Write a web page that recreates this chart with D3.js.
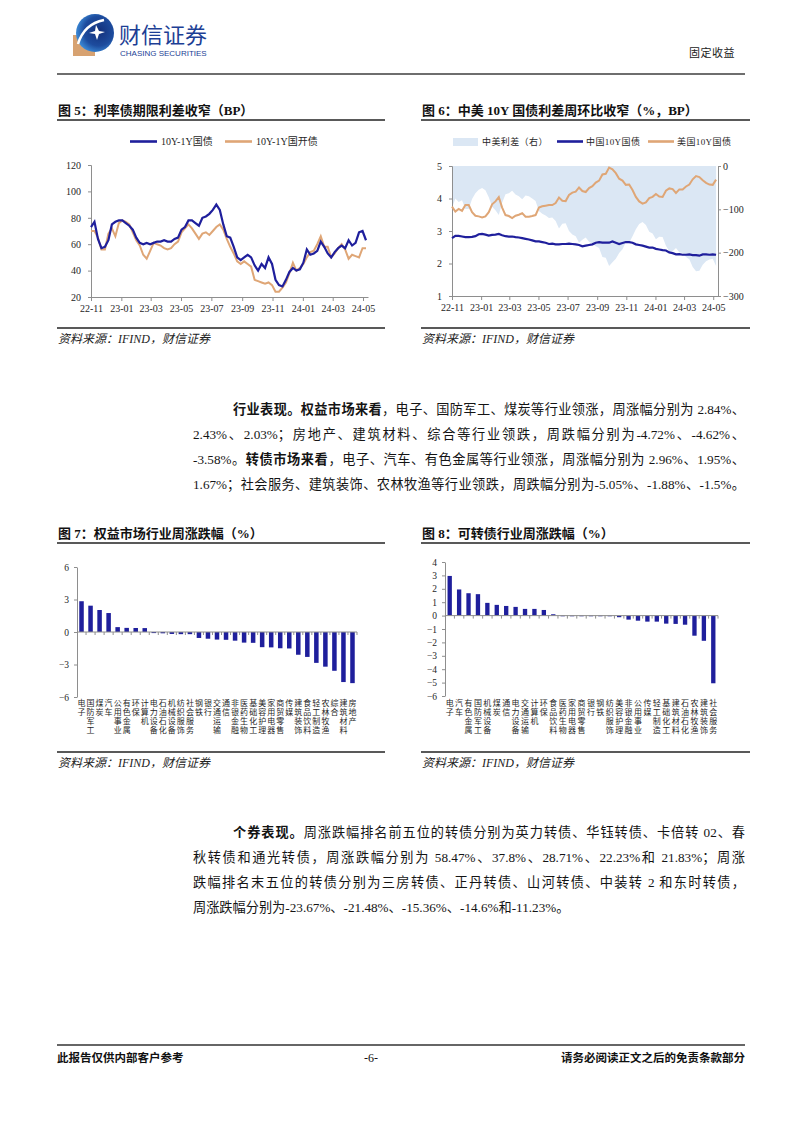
<!DOCTYPE html>
<html><head><meta charset="utf-8">
<script src="https://cdn.jsdelivr.net/npm/d3@7/dist/d3.min.js"></script>
<style>
body{margin:0;background:#fff;}
#page{position:relative;width:802px;height:1133px;overflow:hidden;background:#fff;}
#page svg{position:absolute;left:0;top:0;}
.ln{position:absolute;font-family:"Liberation Serif","Noto Sans CJK SC",serif;font-size:13.2px;line-height:20px;height:20px;color:#141414;text-align:justify;text-align-last:justify;text-justify:inter-character;}
.ln b{font-weight:bold;}
.ln.last{text-align-last:left;}
</style></head>
<body><div id="page"></div>
<script>
// ---------------- DATA ----------------
const periodStart = "2022-11-01";   // first weekly observation
const periodEnd = "2024-05-11";     // end of time axis
const dateTicks = ["22-11","23-01","23-03","23-05","23-07","23-09","23-11","24-01","24-03","24-05"];

// Fig 5: term spreads (BP), weekly
const govtTermSpread = [73,77,64,57,58,63,75,77,78,78,76,74,71,65,61,60,61,60,61,62,62,63,62,62,64,65,71,73,78,78,76,74,80,81,83,86,90,86,75,66,65,58,50,48,50,52,50,44,40,45,42,50,45,33,29,28,33,39,42,40,41,46,56,52,53,55,62,58,53,50,54,57,59,57,63,59,61,69,70,63];
const cdbTermSpread = [70,70,65,56,56,68,72,66,76,78,77,75,69,63,59,52,49,55,61,60,59,57,56,57,60,62,69,72,75,72,68,64,68,69,67,70,73,75,71,64,58,53,47,45,47,45,43,33,32,31,30,31,29,24,24,27,31,38,46,40,42,45,50,54,55,60,66,58,58,50,53,57,60,56,49,52,51,50,57,57];
const fig5Legend = ["10Y-1Y国债","10Y-1Y国开债"];

// Fig 6: 10Y yields (%) and spread (BP), weekly
const cn10y = [2.78,2.85,2.85,2.83,2.81,2.81,2.82,2.84,2.90,2.91,2.89,2.86,2.88,2.89,2.91,2.87,2.84,2.83,2.83,2.81,2.80,2.78,2.76,2.74,2.71,2.68,2.68,2.66,2.64,2.60,2.61,2.59,2.59,2.60,2.60,2.61,2.60,2.59,2.57,2.53,2.55,2.57,2.59,2.64,2.66,2.64,2.64,2.64,2.68,2.64,2.60,2.63,2.66,2.66,2.64,2.59,2.57,2.55,2.52,2.49,2.49,2.45,2.43,2.41,2.40,2.34,2.32,2.28,2.29,2.27,2.27,2.28,2.26,2.26,2.24,2.28,2.28,2.27,2.28,2.27];
const us10y = [3.75,3.60,3.68,3.62,3.80,3.80,3.58,3.47,3.45,3.42,3.45,3.58,3.82,3.91,4.04,3.72,3.49,3.46,3.40,3.47,3.50,3.55,3.44,3.44,3.46,3.49,3.72,3.76,3.78,3.80,3.80,3.86,4.03,3.93,3.92,4.11,4.18,4.21,4.34,4.23,4.20,4.32,4.38,4.49,4.55,4.74,4.76,4.95,4.90,4.78,4.61,4.55,4.42,4.43,4.26,4.05,3.91,3.84,3.88,4.01,4.05,4.14,4.06,4.05,4.24,4.31,4.29,4.17,4.28,4.28,4.37,4.43,4.59,4.69,4.66,4.56,4.48,4.43,4.42,4.58];
const cnUsSpread = [-97,-75,-83,-79,-99,-99,-76,-63,-55,-51,-56,-72,-94,-102,-113,-85,-65,-63,-57,-66,-70,-77,-68,-70,-75,-81,-104,-110,-114,-120,-119,-127,-144,-133,-132,-150,-158,-162,-177,-170,-165,-175,-179,-185,-189,-210,-212,-231,-222,-214,-201,-192,-176,-177,-162,-146,-134,-129,-136,-152,-156,-169,-163,-164,-184,-197,-197,-189,-199,-201,-210,-215,-233,-243,-242,-228,-220,-216,-214,-231];
const fig6Legend = ["中美利差（右）","中国10Y国债","美国10Y国债"];
const fig6LeftTicks = [1,2,3,4,5];
const fig6RightTicks = [-300,-200,-100,0];
const fig5Ticks = [20,40,60,80,100,120];

// Fig 7: equity industries weekly change (%)
const eqIndustries = ["电子","国防军工","煤炭","汽车","公用事业","有色金属","环保","计算机","电力设备","石油石化","机械设备","纺织服饰","社会服务","钢铁","银行","交通运输","通信","非银金融","医药生物","基础化工","美容护理","家用电器","商贸零售","传媒","建筑装饰","食品饮料","轻工制造","农林牧渔","综合","建筑材料","房地产"];
const eqChange = [2.84,2.43,2.03,1.75,0.45,0.38,0.37,0.36,-0.10,-0.12,-0.18,-0.20,-0.20,-0.55,-0.62,-0.70,-0.72,-0.80,-0.98,-1.00,-1.40,-1.42,-1.50,-1.52,-2.10,-2.30,-2.85,-3.20,-3.58,-4.62,-4.72];
const fig7Ticks = [-6,-3,0,3,6];

// Fig 8: convertible bond industries weekly change (%)
const cbIndustries = ["电子","汽车","有色金属","国防军工","机械设备","煤炭","通信","电力设备","交通运输","计算机","环保","食品饮料","医药生物","家用电器","商贸零售","银行","钢铁","纺织服饰","美容护理","非银金融","公用事业","传媒","轻工制造","基础化工","建筑材料","石油石化","农林牧渔","建筑装饰","社会服务"];
const cbChange = [2.96,1.95,1.67,1.60,0.95,0.80,0.72,0.65,0.50,0.50,0.42,0.10,-0.05,-0.05,-0.05,-0.05,-0.05,-0.05,-0.12,-0.30,-0.38,-0.45,-0.45,-0.60,-0.62,-0.68,-1.50,-1.88,-5.05];
const fig8Ticks = [-6,-5,-4,-3,-2,-1,0,1,2,3,4];

const titles = ["图 5：利率债期限利差收窄（BP）","图 6：中美 10Y 国债利差周环比收窄（%，BP）","图 7：权益市场行业周涨跌幅（%）","图 8：可转债行业周涨跌幅（%）"];
const sourceText = "资料来源：IFIND，财信证券";

// ---------------- DRAW ----------------
const BLUE="#1f1f9c", ORANGE="#dfa676", AREA="#dbe7f4", AXIS="#8e8e8e", TXT="#262626";
const SERIF='"Liberation Serif","Noto Sans CJK SC",serif';
const page = d3.select("#page");
const svg = page.append("svg").attr("width",802).attr("height",1133);

// header / logo
const defs = svg.append("defs");
const rg = defs.append("radialGradient").attr("id","lg").attr("cx","60%").attr("cy","45%").attr("r","60%");
rg.append("stop").attr("offset","0%").attr("stop-color","#14307a");
rg.append("stop").attr("offset","65%").attr("stop-color","#1d4c9e");
rg.append("stop").attr("offset","100%").attr("stop-color","#3c8ad6");
svg.append("rect").attr("x",73).attr("y",35).attr("width",22).attr("height",21).attr("fill","#d7a271");
svg.append("circle").attr("cx",95).attr("cy",33).attr("r",19).attr("fill","url(#lg)");
svg.append("path").attr("d","M78,44 Q84,24 104,20").attr("stroke","#fff").attr("stroke-width",2.5).attr("fill","none");
svg.append("path").attr("d","M96,25 L99,31 L105,32 L99,34 L97,40 L95,34 L89,33 L95,31 Z").attr("fill","#fff");
svg.append("text").attr("x",119).attr("y",43).text("财信证券")
  .style("font-family",'"Noto Sans CJK SC",sans-serif').style("font-size","22px").attr("fill","#1d3f95");
svg.append("text").attr("x",120).attr("y",56).text("CHASING SECURITIES")
  .style("font-family",'"Liberation Sans",sans-serif').style("font-size","8px").attr("fill","#1d3f95");
svg.append("text").attr("x",735).attr("y",57).attr("text-anchor","end").text("固定收益")
  .style("font-family",'"Noto Sans CJK SC",sans-serif').style("font-size","11px").style("letter-spacing","0.5px").attr("fill","#222");
svg.append("line").attr("x1",57).attr("x2",745).attr("y1",74).attr("y2",74).attr("stroke","#6e6e6e").attr("stroke-width",2);

// frames
function frame(x0,x1,yTitle,yBottom,title){
  svg.append("text").attr("x",x0+1).attr("y",yTitle+4.5).text(title)
    .style("font-family",SERIF).style("font-weight","bold").style("font-size","13px").attr("fill","#111");
  svg.append("line").attr("x1",x0).attr("x2",x1).attr("y1",yTitle+10).attr("y2",yTitle+10).attr("stroke","#222").attr("stroke-width",1.5);
  svg.append("line").attr("x1",x0).attr("x2",x1).attr("y1",yBottom).attr("y2",yBottom).attr("stroke","#222").attr("stroke-width",1.5);
  svg.append("text").attr("x",x0+1).attr("y",yBottom+15).text(sourceText)
    .style("font-family",SERIF).style("font-style","italic").style("font-size","12px").attr("fill","#222");
}
frame(57,385,110,328,titles[0]);
frame(421,750,110,328,titles[1]);
frame(57,385,533,752,titles[2]);
frame(421,750,533,752,titles[3]);

function styleAxis(g,fs){
  g.select(".domain").attr("stroke",AXIS);
  g.selectAll(".tick line").attr("stroke",AXIS);
  g.selectAll(".tick text").style("font-family",SERIF).style("font-size",fs||"10px").attr("fill",TXT);
}

const parseDay = d3.timeParse("%Y-%m-%d");
const parseMonth = d3.timeParse("%y-%m");
const t0 = parseDay(periodStart);
const weeks = govtTermSpread.map((_,i)=>d3.timeDay.offset(t0,7*i));
const tickDates = dateTicks.map(parseMonth);
const fmt = d3.timeFormat("%y-%m");

// ---------- Fig 5 ----------
{
  const x = d3.scaleTime().domain([t0,parseDay(periodEnd)]).range([91,368]);
  const y = d3.scaleLinear().domain([20,120]).range([297,165]);
  const gy = svg.append("g").attr("transform","translate(91,0)")
    .call(d3.axisLeft(y).tickValues(fig5Ticks).tickSize(3).tickPadding(7));
  styleAxis(gy);
  const gx = svg.append("g").attr("transform","translate(0,297)")
    .call(d3.axisBottom(x).tickValues(tickDates).tickFormat(fmt).tickSize(4).tickPadding(4).tickSizeOuter(0));
  styleAxis(gx);
  const line = d3.line().x((d,i)=>x(weeks[i])).y(d=>y(d)).curve(d3.curveLinear);
  svg.append("path").datum(cdbTermSpread).attr("d",line).attr("fill","none").attr("stroke",ORANGE).attr("stroke-width",2);
  svg.append("path").datum(govtTermSpread).attr("d",line).attr("fill","none").attr("stroke",BLUE).attr("stroke-width",2.2);
  const lg = svg.append("g").style("font-family",SERIF).style("font-size","10px");
  [[130,BLUE],[225,ORANGE]].forEach(([lx,c],i)=>{
    lg.append("line").attr("x1",lx).attr("x2",lx+27).attr("y1",141.5).attr("y2",141.5).attr("stroke",c).attr("stroke-width",2.6);
    lg.append("text").attr("x",lx+31).attr("y",145).text(fig5Legend[i]).attr("fill",TXT);
  });
}

// ---------- Fig 6 ----------
{
  const x = d3.scaleTime().domain([t0,parseDay(periodEnd)]).range([452,718]);
  const yL = d3.scaleLinear().domain([1,5]).range([296,166]);
  const yR = d3.scaleLinear().domain([-300,0]).range([296,166]);
  const area = d3.area().x((d,i)=>x(weeks[i])).y0(yR(0)).y1(d=>yR(d));
  svg.append("path").datum(cnUsSpread).attr("d",area).attr("fill",AREA);
  const gl = svg.append("g").attr("transform","translate(452,0)")
    .call(d3.axisLeft(yL).tickValues(fig6LeftTicks).tickFormat(d3.format("d")).tickSize(3).tickPadding(7));
  styleAxis(gl);
  const gr = svg.append("g").attr("transform","translate(718,0)")
    .call(d3.axisRight(yR).tickValues(fig6RightTicks).tickSize(3).tickPadding(2));
  styleAxis(gr);
  const gx = svg.append("g").attr("transform","translate(0,296)")
    .call(d3.axisBottom(x).tickValues(tickDates).tickFormat(fmt).tickSize(4).tickPadding(4).tickSizeOuter(0));
  styleAxis(gx);
  const line = d3.line().x((d,i)=>x(weeks[i])).y(d=>yL(d));
  svg.append("path").datum(us10y).attr("d",line).attr("fill","none").attr("stroke",ORANGE).attr("stroke-width",2);
  svg.append("path").datum(cn10y).attr("d",line).attr("fill","none").attr("stroke",BLUE).attr("stroke-width",2.2);
  const lg = svg.append("g").style("font-family",SERIF).style("font-size","9px").style("letter-spacing","0.4px");
  lg.append("rect").attr("x",453).attr("y",138).attr("width",25).attr("height",8).attr("fill",AREA);
  lg.append("text").attr("x",482).attr("y",145).text(fig6Legend[0]).attr("fill",TXT);
  [[557,BLUE,1],[648,ORANGE,2]].forEach(([lx,c,i])=>{
    lg.append("line").attr("x1",lx).attr("x2",lx+26).attr("y1",141.5).attr("y2",141.5).attr("stroke",c).attr("stroke-width",2.6);
    lg.append("text").attr("x",lx+29).attr("y",145).text(fig6Legend[i]).attr("fill",TXT);
  });
}

// ---------- bar charts ----------
function barChart(cats,vals,ticks,xr,yDomain,yr,labelTop,pi,po){
  const x = d3.scaleBand().domain(cats).range(xr).paddingInner(pi).paddingOuter(po);
  const y = d3.scaleLinear().domain(yDomain).range(yr);
  const gy = svg.append("g").attr("transform",`translate(${xr[0]},0)`)
    .call(d3.axisLeft(y).tickValues(ticks).tickSize(3).tickPadding(5).tickSizeOuter(0));
  styleAxis(gy,"9.5px");
  svg.append("g").selectAll("rect").data(vals).join("rect")
    .attr("x",(d,i)=>x(cats[i])).attr("width",x.bandwidth())
    .attr("y",d=>y(Math.max(0,d))).attr("height",d=>Math.abs(y(d)-y(0)))
    .attr("fill",BLUE);
  const step = x.step();
  const gz = svg.append("g");
  gz.append("line").attr("x1",xr[0]).attr("x2",xr[1]).attr("y1",y(0)).attr("y2",y(0)).attr("stroke",AXIS);
  cats.forEach(c=>{
    const bx = x(c) + x.bandwidth()/2 + step/2;
    gz.append("line").attr("x1",bx).attr("x2",bx).attr("y1",y(0)).attr("y2",y(0)+3).attr("stroke",AXIS);
  });
  // vertical category labels (one text per category, stacked characters)
  const lg = svg.append("g").style("font-family",'"Noto Sans CJK SC",sans-serif').style("font-size","8px").attr("fill",TXT);
  cats.forEach(c=>{
    const cx = x(c)+x.bandwidth()/2;
    lg.append("text").attr("x",cx).attr("y",labelTop)
      .style("writing-mode","vertical-rl").style("text-orientation","upright")
      .style("letter-spacing","1.1px").text(c);
  });
}
barChart(eqIndustries,eqChange,fig7Ticks,[77,357],[-6,6],[697,567],699,0.5,0.25);
barChart(cbIndustries,cbChange,fig8Ticks,[445,718],[-6,4],[696,562],699,0.54,0.27);

// footer
svg.append("line").attr("x1",57).attr("x2",745).attr("y1",1045).attr("y2",1045).attr("stroke","#333").attr("stroke-width",1.5);
svg.append("text").attr("x",57).attr("y",1062).text("此报告仅供内部客户参考")
  .style("font-family",'"Noto Sans CJK SC",sans-serif').style("font-weight","bold").style("font-size","11.5px").attr("fill","#111");
svg.append("text").attr("x",371).attr("y",1062).attr("text-anchor","middle").text("-6-")
  .style("font-family",SERIF).style("font-size","12px").attr("fill","#111");
svg.append("text").attr("x",745).attr("y",1062).attr("text-anchor","end").text("请务必阅读正文之后的免责条款部分")
  .style("font-family",'"Noto Sans CJK SC",sans-serif').style("font-weight","bold").style("font-size","11.5px").attr("fill","#111");

// paragraphs (HTML for justification)
const para1 = [
  ["<b>行业表现。权益市场来看</b>，电子、国防军工、煤炭等行业领涨，周涨幅分别为 2.84%、",233,410],
  ["2.43%、2.03%；房地产、建筑材料、综合等行业领跌，周跌幅分别为-4.72%、-4.62%、",193,435],
  ["-3.58%。<b>转债市场来看</b>，电子、汽车、有色金属等行业领涨，周涨幅分别为 2.96%、1.95%、",193,460],
  ["1.67%；社会服务、建筑装饰、农林牧渔等行业领跌，周跌幅分别为-5.05%、-1.88%、-1.5%。",193,485]
];
const para2 = [
  ["<b>个券表现。</b>周涨跌幅排名前五位的转债分别为英力转债、华钰转债、卡倍转 02、春",233,833],
  ["秋转债和通光转债，周涨跌幅分别为 58.47%、37.8%、28.71%、22.23%和 21.83%；周涨",193,858],
  ["跌幅排名末五位的转债分别为三房转债、正丹转债、山河转债、中装转 2 和东时转债，",193,883],
  ["周涨跌幅分别为-23.67%、-21.48%、-15.36%、-14.6%和-11.23%。",193,908,true]
];
para1.concat(para2).forEach(([html,x,yc,last])=>{
  page.append("div").attr("class","ln"+(last?" last":""))
    .style("left",x+"px").style("top",(yc-10)+"px").style("width",(745-x)+"px").html(html);
});
</script>
</body></html>
